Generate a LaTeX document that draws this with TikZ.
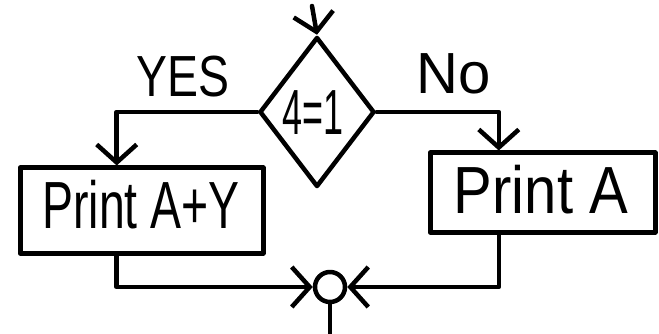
\documentclass[tikz,border=0pt]{standalone}
\usepackage{fontspec}
\setmainfont{Liberation Sans}
\usetikzlibrary{shapes.geometric,arrows.meta,calc}
\begin{document}
\begin{tikzpicture}[x=1pt,y=-1pt,
  line width=4.5pt, line join=round, line cap=round,
  handtext/.style={font=\fontsize{58}{62}\selectfont},
  procbox/.style={draw, rectangle, inner sep=0pt, line width=5pt},
  decision/.style={draw, diamond, inner sep=0pt, minimum width=115pt, minimum height=150pt},
  joint/.style={draw, circle, inner sep=0pt, minimum size=30pt},
  flow/.style={-{Straight Barb[length=18pt,width=40pt,line width=4.5pt]}},
  plain/.style={line width=4.5pt}]
\useasboundingbox (0,0) rectangle (659,334);

\node[decision] (D) at (317,112) {};
\node[handtext] (Dt) at (313,113) {\scalebox{0.62}[1.1]{4=1}};
\coordinate (In) at (312,6);

\node[procbox, minimum width=243pt, minimum height=85pt] (L) at (141.5,210.5) {};
\node[handtext] (Lt) at (141,205) {\scalebox{0.8}[1.15]{Print A+Y}};

\node[procbox, minimum width=225pt, minimum height=79pt] (R) at (542.5,192.5) {};
\node[handtext] (Rt) at (541,190) {\scalebox{1.0}[1.15]{Print A}};

\node[handtext] (Yes) at (183,77) {\scalebox{0.8}[1]{YES}};
\node[handtext] (No) at (454,74) {No};

\node[joint] (J) at (330,287) {};
\coordinate (Out) at (330,334);

\coordinate (Lin) at ($(L.north west)!0.4!(L.north east)$);
\coordinate (Lout) at ($(L.south west)!0.4!(L.south east)$);
\coordinate (Rin) at ($(R.north west)!0.31!(R.north east)$);
\coordinate (Rout) at ($(R.south west)!0.31!(R.south east)$);

\draw[flow] (In) -- (D.north);
\draw[flow] (D.west) -| (Lin);
\draw[flow] (D.east) -| (Rin);
\draw[flow] (Lout) |- (J.west);
\draw[flow] (Rout) |- (J.east);
\draw[plain] (J.south) -- (Out);
\end{tikzpicture}
\end{document}
